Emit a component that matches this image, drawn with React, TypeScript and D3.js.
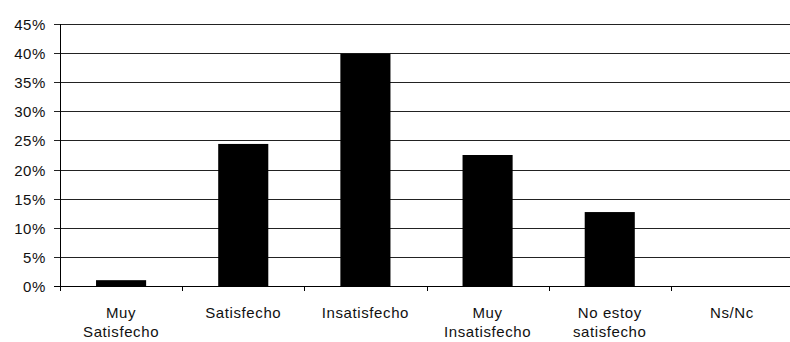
import React from "react";
import * as d3 from "d3";

const categories: string[][] = [
  ["Muy", "Satisfecho"],
  ["Satisfecho"],
  ["Insatisfecho"],
  ["Muy", "Insatisfecho"],
  ["No estoy", "satisfecho"],
  ["Ns/Nc"],
];
const values: number[] = [1.0, 24.4, 39.9, 22.5, 12.7, 0];
const yTicks: number[] = [0, 5, 10, 15, 20, 25, 30, 35, 40, 45];

const W = 790;
const H = 342;
const left = 60;
const right = 793;
const top = 24;
const bottom = 286;

export default function App() {
  const keys = categories.map((c) => c.join(" "));
  const x = d3
    .scaleBand<string>()
    .domain(keys)
    .range([left, right])
    .paddingInner(0.59)
    .paddingOuter(0.295);
  const y = d3.scaleLinear().domain([0, 45]).range([bottom, top]);
  const step = x.step();
  const font = "'Liberation Sans', Arial, sans-serif";

  return (
    <svg
      width={W}
      height={H}
      style={{ position: "absolute", left: 0, top: 0, background: "#fff" }}
      fontFamily={font}
    >
      {yTicks.map((t) => (
        <g key={t}>
          <line
            x1={left - 6}
            x2={right}
            y1={Math.round(y(t)) + 0.5}
            y2={Math.round(y(t)) + 0.5}
            stroke={t === 0 ? "#000" : "#222"}
            strokeWidth={1}
          />
          <text
            x={left - 14}
            y={y(t) + 0.5}
            textAnchor="end"
            dominantBaseline="central"
            fontSize={15}
            letterSpacing={0.6}
            fill="#111"
          >
            {t}%
          </text>
        </g>
      ))}
      {keys.map((k, i) => {
        const v = values[i];
        const yy = y(v);
        return v > 0 ? (
          <rect
            key={k}
            x={x(k)!}
            y={yy}
            width={x.bandwidth()}
            height={bottom - yy + 0.5}
            fill="#000"
          />
        ) : null;
      })}
      <line
        x1={left + 0.5}
        x2={left + 0.5}
        y1={top}
        y2={bottom + 5}
        stroke="#000"
        strokeWidth={1}
      />
      {keys.map((k, i) => {
        const tx = Math.round(left + i * step) + 0.5;
        return (
          <line
            key={"t" + k}
            x1={tx}
            x2={tx}
            y1={bottom}
            y2={bottom + 5}
            stroke="#000"
          />
        );
      })}
      {categories.map((lines, i) => {
        const cx = x(keys[i])! + x.bandwidth() / 2;
        return (
          <text
            key={"l" + i}
            x={cx}
            textAnchor="middle"
            fontSize={15}
            letterSpacing={0.6}
            fill="#111"
          >
            {lines.map((ln, j) => (
              <tspan key={j} x={cx} y={318 + j * 18.7}>
                {ln}
              </tspan>
            ))}
          </text>
        );
      })}
    </svg>
  );
}
